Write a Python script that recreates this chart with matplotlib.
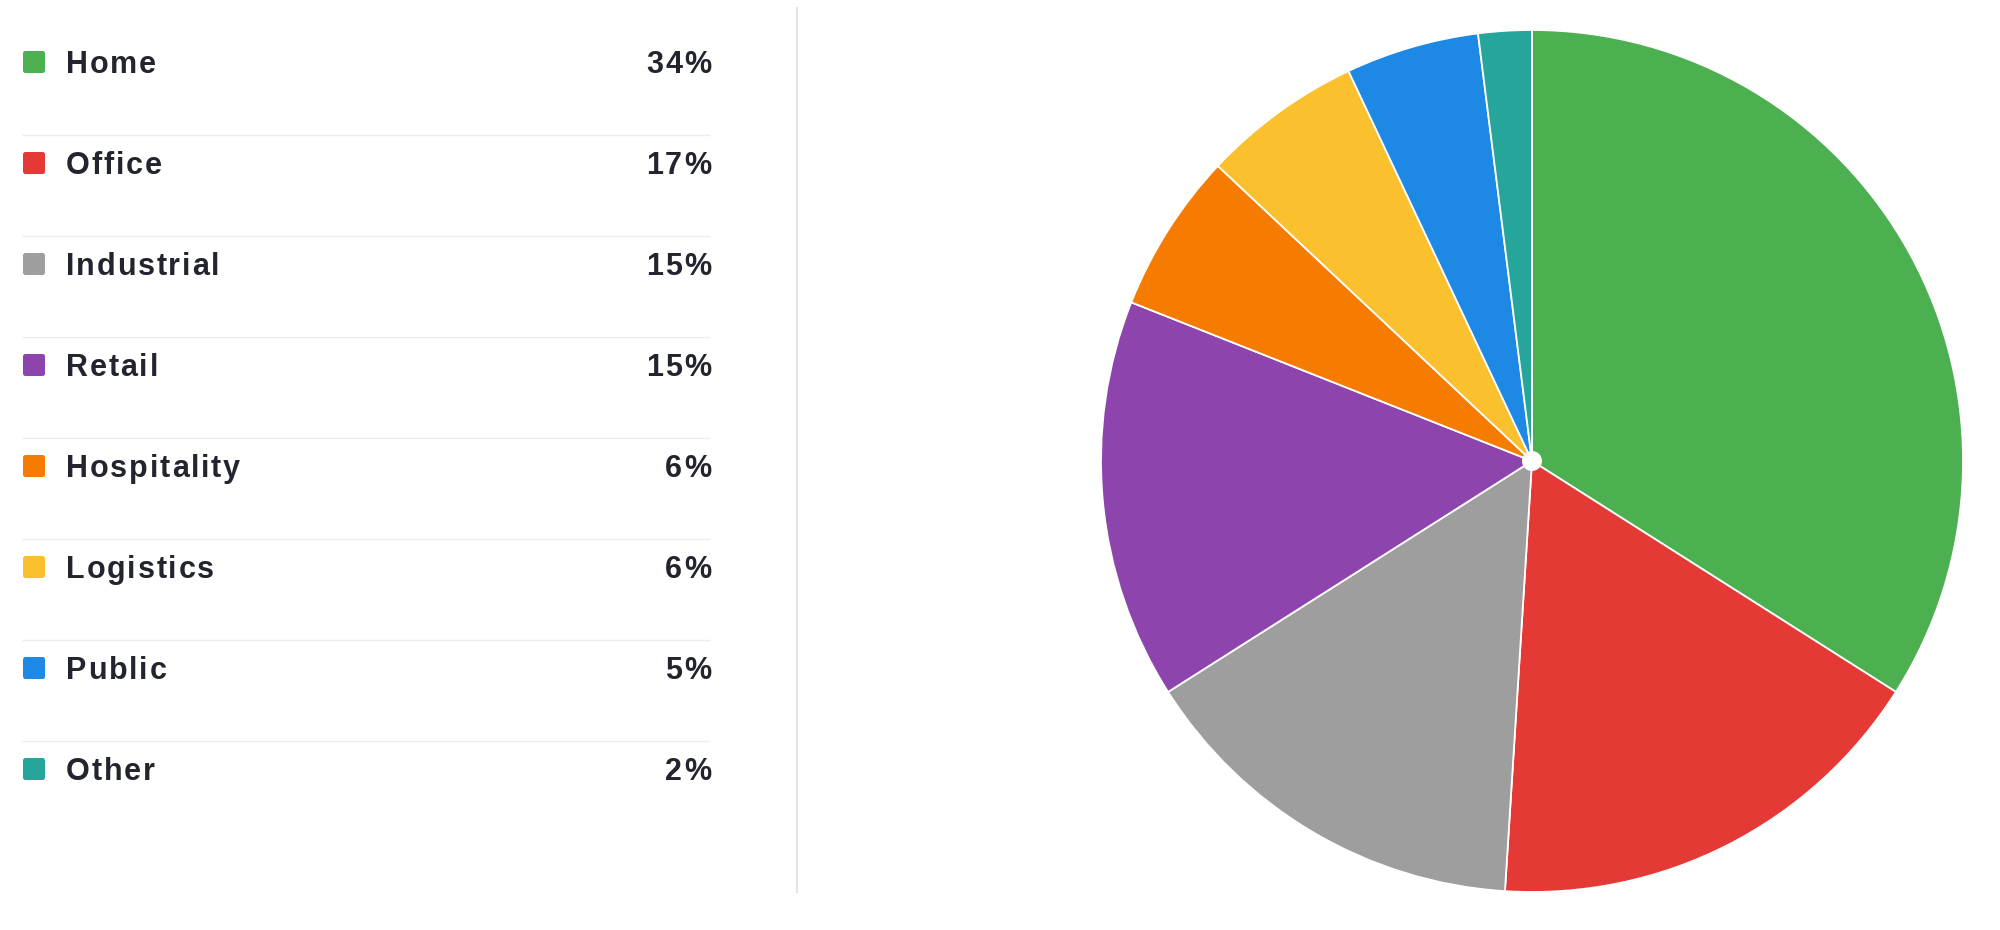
import matplotlib
matplotlib.use("Agg")
import matplotlib.pyplot as plt
from matplotlib.patches import FancyBboxPatch, Circle
from matplotlib.font_manager import FontProperties, findfont
from matplotlib.ft2font import FT2Font

categories = ["Home", "Office", "Industrial", "Retail", "Hospitality", "Logistics", "Public", "Other"]
values = [34, 17, 15, 15, 6, 6, 5, 2]
pct_labels = ["34%", "17%", "15%", "15%", "6%", "6%", "5%", "2%"]
colors = ["#4CAF50", "#E53935", "#9E9E9E", "#8E44AD", "#F57C00", "#FBC02D", "#1E88E5", "#26A69A"]

W, H, DPI = 2000, 930, 100
fig = plt.figure(figsize=(W / DPI, H / DPI), dpi=DPI)
fig.patch.set_facecolor("white")

# overlay axes in pixel coordinates (y downward)
ov = fig.add_axes([0, 0, 1, 1])
ov.set_xlim(0, W)
ov.set_ylim(H, 0)
ov.axis("off")

TEXT_COLOR = "#22252d"
FONT_SIZE = 22  # pt
SPACING = 1.8   # px extra letter spacing
prop = FontProperties(family="Liberation Sans", weight="bold", size=FONT_SIZE)
font = FT2Font(findfont(prop))
font.set_size(FONT_SIZE, DPI)


def advances(s):
    out = []
    for ch in s:
        g = font.load_char(ord(ch))
        out.append(g.linearHoriAdvance / 65536.0)
    return out


def spaced_text(s, x, y, align="left"):
    adv = advances(s)
    total = sum(adv) + SPACING * (len(s) - 1)
    cx = x if align == "left" else x - total
    for ch, a in zip(s, adv):
        ov.text(cx, y, ch, fontproperties=prop, color=TEXT_COLOR,
                ha="left", va="baseline")
        cx += a + SPACING


row0, row_step = 62, 101
for i, (cat, pl, col) in enumerate(zip(categories, pct_labels, colors)):
    yc = row0 + i * row_step
    sq = FancyBboxPatch((23, yc - 11), 22, 22,
                        boxstyle="round,pad=0,rounding_size=2.5",
                        facecolor=col, edgecolor="none")
    ov.add_patch(sq)
    spaced_text(cat, 66, yc + 11, "left")
    spaced_text(pl, 711, yc + 11, "right")
    if i < len(categories) - 1:
        ys = yc + 73
        ov.plot([22, 710], [ys, ys], color="#ededed", lw=1.0, solid_capstyle="butt")

# vertical divider
ov.plot([797, 797], [7, 893], color="#e3e3e3", lw=1.3, solid_capstyle="butt")

# pie axes placed precisely
cx_pix, cy_pix, r_pix = 1532, 461, 431
ax = fig.add_axes([(cx_pix - r_pix) / W, (H - cy_pix - r_pix) / H, 2 * r_pix / W, 2 * r_pix / H])
ax.pie(values, colors=colors, startangle=90, counterclock=False, radius=1,
       wedgeprops=dict(edgecolor="white", linewidth=1.3, antialiased=True))
ax.add_patch(Circle((0, 0), 10 / r_pix, facecolor="white", edgecolor="none", zorder=10))
ax.set_xlim(-1.0, 1.0)
ax.set_ylim(-1.0, 1.0)
ax.set_aspect("equal")
ax.axis("off")

fig.savefig("out.png", dpi=DPI, facecolor="white")
